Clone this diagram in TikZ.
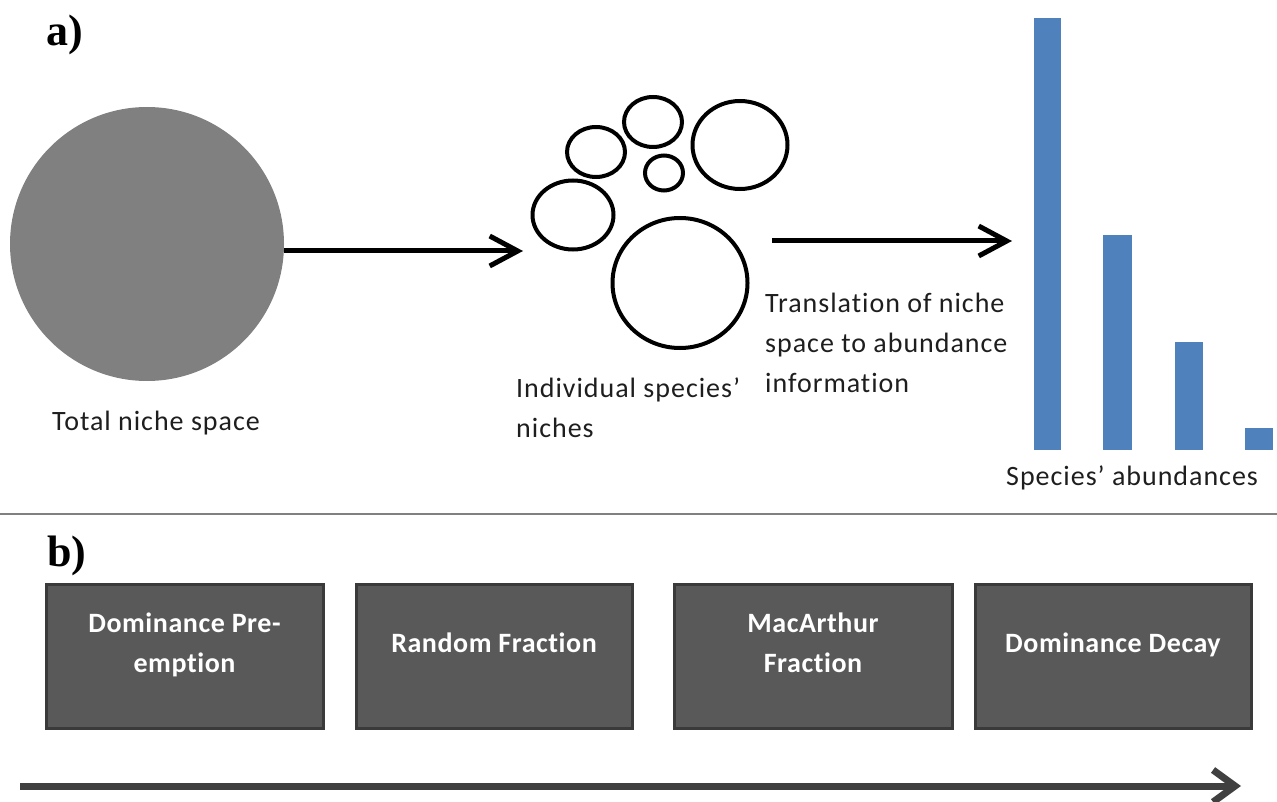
\documentclass[tikz,border=0pt]{standalone}
\usepackage{fontspec}
\newfontfamily\calfont[Ligatures=NoCommon,LetterSpace=3.5]{Carlito}
\newfontfamily\calbfont[Ligatures=NoCommon,LetterSpace=2,BoldFont={Carlito Bold}]{Carlito}
\newfontfamily\tnrfont{Liberation Serif}
\usetikzlibrary{arrows.meta,shapes.geometric}
\definecolor{barblue}{HTML}{4F81BD}
\definecolor{boxfill}{HTML}{595959}
\definecolor{boxline}{HTML}{3A3A3A}
\definecolor{txtgray}{HTML}{1E1E1E}
\definecolor{bigarrow}{HTML}{404040}
\tikzset{
  niche/.style={ellipse,draw=black,line width=4pt,inner sep=0pt},
  flowarrow/.style={line width=5pt,-{Straight Barb[length=28pt,width=30pt]}},
  lbl/.style={font=\calfont\fontsize{28}{40}\selectfont,text=txtgray,inner sep=0pt,align=left},
  panel/.style={font=\tnrfont\bfseries\fontsize{44}{44}\selectfont,inner sep=0pt},
  modelbox/.style={rectangle,fill=boxfill,draw=boxline,line width=3pt,inner sep=0pt},
  boxtext/.style={font=\calbfont\bfseries\fontsize{28}{40}\selectfont,text=white,align=center,inner sep=0pt},
  bar/.style={fill=barblue}
}
\begin{document}
\begin{tikzpicture}[x=1pt,y=-1pt]
\useasboundingbox (0,0) rectangle (1277,802);
% panel a
\node[panel,anchor=base west] (pa) at (46,46) {a)};
\node[circle,fill=gray,inner sep=0pt,minimum size=274pt] (total) at (147,244) {};
\node[lbl,anchor=base west] (totallbl) at (52,430) {Total niche space};
% niche ellipses
\node[niche,minimum width=58pt,minimum height=50pt] (n1) at (596,152) {};
\node[niche,minimum width=58pt,minimum height=50pt] (n2) at (653,122) {};
\node[niche,minimum width=38pt,minimum height=35pt] (n3) at (664,173) {};
\node[niche,minimum width=95pt,minimum height=88pt] (n4) at (740,145) {};
\node[niche,minimum width=81pt,minimum height=69pt] (n5) at (573,215) {};
\node[niche,minimum width=135pt,minimum height=130pt] (n6) at (680,283) {};
\node[lbl,anchor=base west] (indlbl) at (516,437) {Individual species’\\niches};
% arrows
\coordinate (a1s) at (total.east |- 0,251);
\coordinate (a1e) at (523,251);
\draw[flowarrow] (a1s) -- (a1e);
\coordinate (a2s) at (772,241);
\coordinate (a2e) at (1012,241);
\draw[flowarrow] (a2s) -- (a2e);
\node[lbl,anchor=base west] (translbl) at (765,392) {Translation of niche\\space to abundance\\information};
% bars
\path[bar] (1034,18) rectangle (1061,450);
\path[bar] (1103,235) rectangle (1132,450);
\path[bar] (1175,342) rectangle (1203,450);
\path[bar] (1245,428) rectangle (1273,450);
\node[lbl,anchor=base west] (abundlbl) at (1006,485) {Species’ abundances};
% separator
\draw[line width=2pt,draw=gray] (0,514) -- (1277,514);
% panel b
\node[panel,anchor=base west] (pb) at (47,566) {b)};
\node[modelbox,minimum width=277pt,minimum height=144pt] (m1) at (184.5,656) {};
\node[modelbox,minimum width=276pt,minimum height=144pt] (m2) at (494,656) {};
\node[modelbox,minimum width=278pt,minimum height=144pt] (m3) at (813,656) {};
\node[modelbox,minimum width=276pt,minimum height=144pt] (m4) at (1113,656) {};
\node[boxtext,anchor=base] (t1) at (184.5,672) {Dominance Pre-\\emption};
\node[boxtext,anchor=base] (t2) at (494,652) {Random Fraction};
\node[boxtext,anchor=base] (t3) at (813,672) {MacArthur\\Fraction};
\node[boxtext,anchor=base] (t4) at (1113,652) {Dominance Decay};
% bottom arrow
\coordinate (bs) at (20,786);
\coordinate (be) at (1241,786);
\draw[line width=7pt,draw=bigarrow,-{Straight Barb[length=22pt,width=32pt]}] (bs) -- (be);
\end{tikzpicture}
\end{document}
